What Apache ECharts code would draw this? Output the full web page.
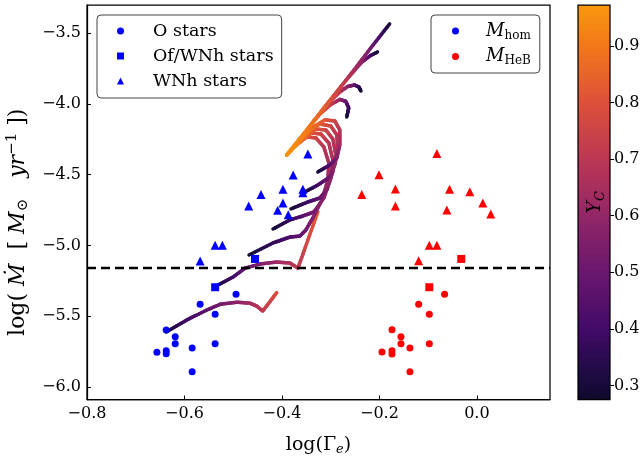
<!DOCTYPE html>
<html>
<head>
<meta charset="utf-8">
<script src="https://cdn.jsdelivr.net/npm/echarts@6/dist/echarts.min.js"></script>
<style>
  html, body { margin: 0; padding: 0; background: #fff; }
  #chart { width: 642px; height: 463px; }
</style>
</head>
<body>
<div id="chart"></div>
<script>
// axis ranges and ticks
const xRange = [-0.8, 0.15];
const yRange = [-6.09, -3.30];
const cbRange = [0.275, 0.972];
const xTicks = [-0.8, -0.6, -0.4, -0.2, 0.0];
const yTicks = [-6.0, -5.5, -5.0, -4.5, -4.0, -3.5];
const cbTicks = [0.3, 0.4, 0.5, 0.6, 0.7, 0.8, 0.9];
const threshold = -5.16;

// observed stars, [log Gamma_e, log Mdot]
const oStarsHom = [[-0.6375, -5.598], [-0.619, -5.646], [-0.6565, -5.756], [-0.6375, -5.745], [-0.6375, -5.766],
  [-0.619, -5.695], [-0.5842, -5.726], [-0.5842, -5.893], [-0.5679, -5.417], [-0.5371, -5.487],
  [-0.5371, -5.695], [-0.4942, -5.346]];
const ofStarsHom = [[-0.5371, -5.296], [-0.4553, -5.096]];
const wnhStarsHom = [[-0.3468, -4.354], [-0.3769, -4.502], [-0.398, -4.603], [-0.357, -4.603], [-0.357, -4.627],
  [-0.443, -4.641], [-0.398, -4.700], [-0.4088, -4.752], [-0.3871, -4.783], [-0.4682, -4.721],
  [-0.5371, -4.999], [-0.5222, -4.999], [-0.5679, -5.110]];
const oStarsHeB = [[-0.0663, -5.346], [-0.1195, -5.417], [-0.0976, -5.487], [-0.1742, -5.596], [-0.1558, -5.646],
  [-0.1558, -5.695], [-0.1374, -5.726], [-0.1947, -5.754], [-0.1742, -5.745], [-0.1742, -5.768],
  [-0.0976, -5.695], [-0.1374, -5.893]];
const ofStarsHeB = [[-0.0976, -5.296], [-0.0321, -5.096]];
const wnhStarsHeB = [[-0.0821, -4.351], [-0.2008, -4.500], [-0.1672, -4.601], [-0.2362, -4.641], [-0.1672, -4.721],
  [-0.0561, -4.603], [-0.0145, -4.620], [0.0121, -4.700], [0.0285, -4.778], [-0.0616, -4.750],
  [-0.0976, -4.999], [-0.0821, -4.999], [-0.1195, -5.108]];

// evolutionary tracks, [log Gamma_e, log Mdot, Y_C]
const track1 = [[-0.390, -4.361, 0.96], [-0.349, -4.184, 0.91], [-0.309, -4.007, 0.83], [-0.269, -3.834, 0.72],
  [-0.224, -3.632, 0.56], [-0.179, -3.434, 0.3]];
const track2 = [[-0.390, -4.361, 0.96], [-0.349, -4.184, 0.91], [-0.309, -4.007, 0.82], [-0.269, -3.834, 0.7],
  [-0.236, -3.703, 0.57], [-0.220, -3.661, 0.45], [-0.204, -3.632, 0.3]];
const track3 = [[-0.390, -4.361, 0.96], [-0.349, -4.184, 0.91], [-0.309, -4.007, 0.82], [-0.281, -3.915, 0.71],
  [-0.265, -3.876, 0.6], [-0.251, -3.866, 0.49], [-0.242, -3.880, 0.39], [-0.238, -3.908, 0.3]];
const track4 = [[-0.390, -4.361, 0.96], [-0.349, -4.184, 0.91], [-0.322, -4.071, 0.84], [-0.298, -4.000, 0.73],
  [-0.281, -3.968, 0.62], [-0.269, -3.982, 0.5], [-0.263, -4.028, 0.4], [-0.267, -4.092, 0.3]];
const trackA = [[-0.390, -4.361, 0.96], [-0.363, -4.255, 0.93], [-0.339, -4.170, 0.89], [-0.312, -4.113, 0.82],
  [-0.2915, -4.120, 0.76], [-0.2813, -4.184, 0.7], [-0.2813, -4.290, 0.64], [-0.2874, -4.382, 0.57],
  [-0.3017, -4.431, 0.46], [-0.3263, -4.481, 0.3]];
const trackB = [[-0.390, -4.361, 0.96], [-0.3693, -4.276, 0.93], [-0.3468, -4.191, 0.89], [-0.3222, -4.141, 0.82],
  [-0.2997, -4.156, 0.76], [-0.2874, -4.219, 0.7], [-0.2854, -4.325, 0.66], [-0.2915, -4.431, 0.61],
  [-0.3017, -4.516, 0.54], [-0.3263, -4.573, 0.42], [-0.3529, -4.622, 0.3]];
const trackC = [[-0.390, -4.361, 0.96], [-0.3734, -4.297, 0.93], [-0.3529, -4.219, 0.89], [-0.3304, -4.177, 0.82],
  [-0.3099, -4.184, 0.76], [-0.2956, -4.248, 0.7], [-0.2895, -4.361, 0.66], [-0.2956, -4.481, 0.62],
  [-0.3079, -4.608, 0.57], [-0.3222, -4.665, 0.5], [-0.3468, -4.693, 0.4], [-0.3816, -4.742, 0.3]];
const trackD = [[-0.390, -4.361, 0.96], [-0.3775, -4.311, 0.93], [-0.359, -4.248, 0.89], [-0.3406, -4.205, 0.82],
  [-0.3202, -4.212, 0.76], [-0.3038, -4.276, 0.7], [-0.2956, -4.396, 0.66], [-0.2997, -4.523, 0.62],
  [-0.314, -4.665, 0.59], [-0.3345, -4.764, 0.54], [-0.357, -4.792, 0.47], [-0.3836, -4.82, 0.38],
  [-0.4184, -4.884, 0.3]];
const trackE = [[-0.390, -4.361, 0.96], [-0.3816, -4.325, 0.93], [-0.3652, -4.276, 0.89], [-0.3488, -4.233, 0.82],
  [-0.3304, -4.240, 0.76], [-0.314, -4.304, 0.7], [-0.3038, -4.417, 0.66], [-0.3058, -4.537, 0.63],
  [-0.3181, -4.679, 0.6], [-0.3365, -4.806, 0.57], [-0.3509, -4.891, 0.53], [-0.3631, -4.934, 0.49],
  [-0.3836, -4.941, 0.44], [-0.4184, -4.983, 0.37], [-0.4676, -5.068, 0.3]];
const trackV1 = [[-0.531, -5.280, 0.3], [-0.5003, -5.224, 0.4], [-0.4757, -5.161, 0.48], [-0.445, -5.132, 0.55],
  [-0.4102, -5.118, 0.62], [-0.3836, -5.125, 0.67], [-0.3672, -5.161, 0.71], [-0.3468, -4.962, 0.77],
  [-0.3263, -4.764, 0.83]];
const trackV2 = [[-0.6375, -5.612, 0.3], [-0.5951, -5.527, 0.39], [-0.5541, -5.457, 0.47], [-0.5269, -5.417, 0.52],
  [-0.4927, -5.402, 0.58], [-0.4655, -5.409, 0.63], [-0.4518, -5.429, 0.67], [-0.4395, -5.464, 0.71],
  [-0.4246, -5.398, 0.75], [-0.4108, -5.334, 0.79]];
const tracks = [trackV2, trackV1, trackE, trackD, trackC, trackB, trackA, track4, track3, track2, track1];

// inferno colour stops, spread over Y_C 0.2 .. 1.0
const INFERNO = ['#000004', '#160b39', '#420a68', '#6a176e', '#932667', '#bc3754', '#dd513a', '#f37819', '#fca50a'];
const cmapLo = 0.2, cmapHi = 1.0;

function hexRgb(h) {
  return [parseInt(h.slice(1, 3), 16), parseInt(h.slice(3, 5), 16), parseInt(h.slice(5, 7), 16)];
}
function cmap(v) {
  const n = INFERNO.length - 1;
  let t = (v - cmapLo) / (cmapHi - cmapLo) * n;
  t = Math.max(0, Math.min(n, t));
  const i = Math.min(Math.floor(t), n - 1), f = t - i;
  const a = hexRgb(INFERNO[i]), b = hexRgb(INFERNO[i + 1]);
  const c = a.map((av, k) => Math.round(av + (b[k] - av) * f));
  return 'rgb(' + c.join(',') + ')';
}

const segments = [];
tracks.forEach(tr => {
  for (let i = 0; i < tr.length - 1; i++) {
    segments.push([tr[i][0], tr[i][1], tr[i + 1][0], tr[i + 1][1], tr[i][2], tr[i + 1][2]]);
  }
});

const FONT = 'DejaVu Serif';
const fmt = v => v.toFixed(1).replace('-', '\u2212');
const RICH = {
  n: { fontFamily: FONT, fontSize: 19, color: '#000' },
  i: { fontFamily: FONT, fontSize: 19, fontStyle: 'italic', color: '#000' },
  sb: { fontFamily: FONT, fontSize: 13, color: '#000', padding: [10, 0, 0, 0] },
  sbi: { fontFamily: FONT, fontSize: 13, fontStyle: 'italic', color: '#000', padding: [10, 0, 0, 0] },
  sp: { fontFamily: FONT, fontSize: 13, color: '#000', padding: [0, 0, 10, 0] }
};
const RICH_Y = {
  n: { fontFamily: FONT, fontSize: 22, color: '#000' },
  i: { fontFamily: FONT, fontSize: 22, fontStyle: 'italic', color: '#000' },
  sb: { fontFamily: FONT, fontSize: 15, color: '#000', padding: [11, 0, 0, 0] },
  sp: { fontFamily: FONT, fontSize: 15, color: '#000', padding: [0, 0, 11, 0] }
};

const chart = echarts.init(document.getElementById('chart'));

const scatter = (name, data, symbol, size, color) => ({
  name, type: 'scatter', data, symbol, symbolSize: size,
  itemStyle: { color, opacity: 1 }, z: 5
});

const options = {
  animation: false,
  grid: [
    { left: 87, right: 92, top: 5, bottom: 63.5, show: true, borderColor: '#000', borderWidth: 1.25, outerBoundsMode: 'none' },
    { left: 578, right: 32, top: 5, bottom: 63.5, outerBoundsMode: 'none' }
  ],
  legend: [
    {
      data: [{ name: 'O stars', icon: 'circle' }, { name: 'Of/WNh stars', icon: 'rect' }, { name: 'WNh stars', icon: 'triangle' }],
      orient: 'vertical', left: 97, top: 15, padding: [6, 8, 7, 20], itemGap: 5, itemWidth: 7, itemHeight: 7,
      textStyle: { fontFamily: FONT, fontSize: 17.5, color: '#000', lineHeight: 20, padding: [0, 0, 0, 24] },
      borderColor: '#444', borderWidth: 1, borderRadius: 4, backgroundColor: '#fff', selectedMode: false
    },
    {
      data: [{ name: 'M_hom', icon: 'circle' }, { name: 'M_HeB', icon: 'circle' }],
      orient: 'vertical', left: 431, top: 15, padding: [6, 9, 6, 21], itemGap: 5, itemWidth: 7, itemHeight: 7,
      formatter: name => name === 'M_hom' ? '{m|M}{s|hom}' : '{m|M}{s|HeB}',
      textStyle: {
        color: '#000', lineHeight: 20, padding: [0, 0, 0, 22],
        rich: {
          m: { fontFamily: FONT, fontSize: 18, fontStyle: 'italic', color: '#000' },
          s: { fontFamily: FONT, fontSize: 12, color: '#000', padding: [9, 0, 0, 0] }
        }
      },
      borderColor: '#444', borderWidth: 1, borderRadius: 4, backgroundColor: '#fff', selectedMode: false
    }
  ],
  xAxis: [
    {
      type: 'value', gridIndex: 0, min: xRange[0], max: xRange[1],
      name: '{n|log(\u0393}{sbi|e}{n|)}', nameLocation: 'middle', nameGap: 34, nameMoveOverlap: false,
      nameTextStyle: { rich: RICH },
      axisLine: { onZero: false, lineStyle: { color: '#000', width: 1.25 } },
      axisTick: { inside: true, length: 4, customValues: xTicks, lineStyle: { color: '#000' } },
      axisLabel: { customValues: xTicks, formatter: fmt, fontFamily: FONT, fontSize: 16, color: '#000', margin: 6 },
      splitLine: { show: false }
    },
    { type: 'value', gridIndex: 1, min: 0, max: 1, show: false }
  ],
  yAxis: [
    {
      type: 'value', gridIndex: 0, min: yRange[0], max: yRange[1],
      name: '{n|log( }{i|\u1E40}{n|  [ }{i|M}{sb|\u2299}{n|   }{i|yr}{sp|\u22121}{n| ])}',
      nameLocation: 'middle', nameGap: 56, nameRotate: 90, nameMoveOverlap: false,
      nameTextStyle: { rich: RICH_Y, padding: [0, 40, 0, 0] },
      axisLine: { onZero: false, lineStyle: { color: '#000', width: 1.25 } },
      axisTick: { inside: true, length: 4, customValues: yTicks, lineStyle: { color: '#000' } },
      axisLabel: { customValues: yTicks, formatter: fmt, fontFamily: FONT, fontSize: 16, color: '#000', margin: 6 },
      splitLine: { show: false }
    },
    {
      type: 'value', gridIndex: 1, position: 'right', min: cbRange[0], max: cbRange[1], z: 10,
      name: '{i|Y}{sbi|C}', nameLocation: 'middle', nameGap: -26, nameRotate: 90, nameMoveOverlap: false,
      nameTextStyle: { rich: RICH },
      axisLine: { show: false, onZero: false },
      axisTick: { inside: false, length: 4, customValues: cbTicks, lineStyle: { color: '#000' } },
      axisLabel: { customValues: cbTicks, formatter: fmt, fontFamily: FONT, fontSize: 16, color: '#000', margin: 4 },
      splitLine: { show: false }
    }
  ],
  series: [
    {
      // colour bar
      type: 'custom', xAxisIndex: 1, yAxisIndex: 1, silent: true, z: 0,
      data: [[0, cbRange[0], 1, cbRange[1]]],
      renderItem: (params, api) => {
        const p1 = api.coord([api.value(0), api.value(3)]);
        const p2 = api.coord([api.value(2), api.value(1)]);
        const stops = [];
        for (let k = 0; k <= 40; k++) {
          const v = cbRange[0] + (cbRange[1] - cbRange[0]) * k / 40;
          stops.push({ offset: k / 40, color: cmap(v) });
        }
        return {
          type: 'rect',
          shape: { x: p1[0], y: p1[1], width: p2[0] - p1[0], height: p2[1] - p1[1] },
          style: {
            fill: new echarts.graphic.LinearGradient(0, 1, 0, 0, stops),
            stroke: '#000', lineWidth: 1.25
          }
        };
      }
    },
    {
      // evolutionary tracks, coloured by Y_C (each segment shaded in short steps)
      type: 'custom', xAxisIndex: 0, yAxisIndex: 0, silent: true, z: 2, clip: true,
      dimensions: ['x1', 'y1', 'x2', 'y2', 'c1', 'c2'],
      encode: { x: [0, 2], y: [1, 3] },
      data: segments,
      renderItem: (params, api) => {
        const p1 = api.coord([api.value(0), api.value(1)]);
        const p2 = api.coord([api.value(2), api.value(3)]);
        const c1 = api.value(4), c2 = api.value(5);
        const steps = 8, children = [];
        for (let k = 0; k < steps; k++) {
          const a = k / steps, b = (k + 1) / steps, m = (a + b) / 2;
          children.push({
            type: 'line',
            shape: {
              x1: p1[0] + (p2[0] - p1[0]) * a, y1: p1[1] + (p2[1] - p1[1]) * a,
              x2: p1[0] + (p2[0] - p1[0]) * b, y2: p1[1] + (p2[1] - p1[1]) * b
            },
            style: { stroke: cmap(c1 + (c2 - c1) * m), lineWidth: 3.5, lineCap: 'round' }
          });
        }
        return { type: 'group', children };
      }
    },
    {
      type: 'line', xAxisIndex: 0, yAxisIndex: 0, silent: true, z: 3,
      data: [[xRange[0], threshold], [xRange[1], threshold]],
      symbol: 'none',
      lineStyle: { color: '#000', width: 2.5, type: [9, 5] }
    },
    scatter('O stars', oStarsHom, 'circle', 7, '#0000ff'),
    scatter('Of/WNh stars', ofStarsHom, 'rect', 8, '#0000ff'),
    scatter('WNh stars', wnhStarsHom, 'triangle', 9, '#0000ff'),
    scatter('O stars HeB', oStarsHeB, 'circle', 7, '#ff0000'),
    scatter('Of/WNh stars HeB', ofStarsHeB, 'rect', 8, '#ff0000'),
    scatter('WNh stars HeB', wnhStarsHeB, 'triangle', 9, '#ff0000'),
    scatter('M_hom', [], 'circle', 7, '#0000ff'),
    scatter('M_HeB', [], 'circle', 7, '#ff0000')
  ]
};

options && chart.setOption(options);
</script>
</body>
</html>
